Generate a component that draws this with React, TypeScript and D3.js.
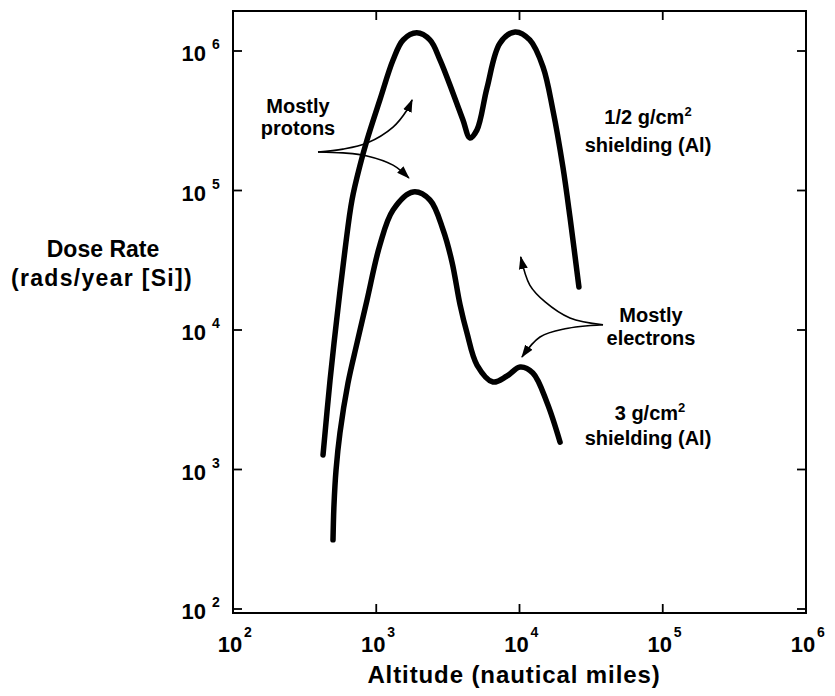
import React from 'react';
import * as d3 from 'd3';

// 1/2 g/cm^2 shielding curve (altitude nmi, dose rads/yr)
const alt1 = [425, 476, 532, 605, 677, 771, 862, 1060, 1310, 1540, 1920, 2370, 2790, 3430, 4030, 4510, 5050, 5930, 7310, 9310, 11800, 14600, 17100, 20100, 22500, 26000];
const dose1 = [1270, 4380, 12400, 37400, 85500, 152000, 230000, 446000, 861000, 1200000, 1350000, 1200000, 861000, 500000, 320000, 238000, 272000, 543000, 1140000, 1370000, 1200000, 768000, 378000, 147000, 64600, 20300];

// 3 g/cm^2 shielding curve
const alt2 = [499, 507, 524, 558, 635, 734, 862, 1060, 1310, 1810, 2370, 2930, 3380, 3850, 4300, 5050, 6530, 8180, 10100, 12400, 15600, 19200];
const dose2 = [313, 557, 991, 1830, 4170, 8070, 16400, 40700, 72500, 97600, 85500, 52100, 30700, 15100, 9510, 5610, 4240, 4680, 5430, 4920, 3000, 1570];

// annotation arrows (data coordinates)
const protonUpper: [number, number][] = [[392, 189000], [586, 198000], [862, 219000], [1310, 285000], [1640, 378000], [1780, 446000]];
const protonLower: [number, number][] = [[392, 189000], [586, 186000], [862, 177000], [1310, 152000], [1690, 123000]];
const electronUpper: [number, number][] = [[38300, 10900], [22500, 12200], [15100, 15900], [11800, 21000], [10200, 33400]];
const electronLower: [number, number][] = [[38300, 10900], [20800, 10200], [13900, 8910], [10400, 6400]];

const yTicks = [1e2, 1e3, 1e4, 1e5, 1e6];
const yTickExp = ['2', '3', '4', '5', '6'];
const xTicks = [1e2, 1e3, 1e4, 1e5, 1e6];
const xTickExp = ['2', '3', '4', '5', '6'];
const xInnerTicks = [1e3, 1e4, 1e5];

const FONT = '"Liberation Sans", Arial, Helvetica, sans-serif';

export default function App() {
  const L = 233, R = 806, T = 11, B = 613;
  const x = d3.scaleLog().domain([100, 1e6]).range([L, R]);
  const y = d3.scaleLog().domain([100, 1e6]).range([609, 51]);

  const curve = d3.line<[number, number]>()
    .x(d => x(d[0]))
    .y(d => y(d[1]))
    .curve(d3.curveCatmullRom.alpha(0.5));

  const c1 = alt1.map((a, i) => [a, dose1[i]] as [number, number]);
  const c2 = alt2.map((a, i) => [a, dose2[i]] as [number, number]);

  const tl = 9;

  return (
    <svg width={835} height={696} style={{ position: 'absolute', left: 0, top: 0, background: '#fff' }} fontFamily={FONT} fontWeight="bold">
      <defs>
        <marker id="ah" markerUnits="userSpaceOnUse" markerWidth={14} markerHeight={12} refX={12} refY={5} orient="auto" viewBox="0 0 14 10">
          <path d="M0,0.5 L13,5 L0,9.5 Z" fill="#000" />
        </marker>
      </defs>
      <rect x={0} y={0} width={835} height={696} fill="#fff" />
      {/* frame */}
      <rect x={L} y={T} width={R - L} height={B - T} fill="none" stroke="#000" strokeWidth={2} />
      {/* y ticks */}
      {yTicks.map((t, i) => (
        <g key={'y' + i}>
          <line x1={L} x2={L + tl} y1={y(t)} y2={y(t)} stroke="#000" strokeWidth={1.8} />
          <line x1={R} x2={R - tl} y1={y(t)} y2={y(t)} stroke="#000" strokeWidth={1.8} />
          <text x={206} y={y(t) + 10} fontSize={22} textAnchor="end">10</text>
          <text x={212} y={y(t) - 2} fontSize={14}>{yTickExp[i]}</text>
        </g>
      ))}
      {/* x ticks */}
      {xInnerTicks.map((t, i) => (
        <g key={'xi' + i}>
          <line x1={x(t)} x2={x(t)} y1={B} y2={B - tl} stroke="#000" strokeWidth={1.8} />
          <line x1={x(t)} x2={x(t)} y1={T} y2={T + tl} stroke="#000" strokeWidth={1.8} />
        </g>
      ))}
      {xTicks.map((t, i) => (
        <g key={'x' + i}>
          <text x={x(t) - 3} y={652} fontSize={22} textAnchor="middle">10</text>
          <text x={x(t) + 11} y={637} fontSize={14}>{xTickExp[i]}</text>
        </g>
      ))}
      {/* axis titles */}
      <text x={514} y={683} fontSize={24} letterSpacing={0.9} textAnchor="middle">Altitude (nautical miles)</text>
      <text x={103} y={257} fontSize={23} textAnchor="middle">Dose Rate</text>
      <text x={102} y={286} fontSize={23} letterSpacing={1.3} textAnchor="middle">(rads/year [Si])</text>

      {/* curves */}
      <path d={curve(c1) || ''} fill="none" stroke="#000" strokeWidth={5.5} strokeLinecap="round" strokeLinejoin="round" />
      <path d={curve(c2) || ''} fill="none" stroke="#000" strokeWidth={5.5} strokeLinecap="round" strokeLinejoin="round" />

      {/* arrows */}
      {[protonUpper, protonLower, electronUpper, electronLower].map((p, i) => (
        <path key={'a' + i} d={curve(p) || ''} fill="none" stroke="#000" strokeWidth={1.6} markerEnd="url(#ah)" />
      ))}

      {/* annotations */}
      <text x={298} y={113} fontSize={20} textAnchor="middle">Mostly</text>
      <text x={298} y={135} fontSize={20} textAnchor="middle">protons</text>
      <text x={648} y={124} fontSize={20} textAnchor="middle">1/2 g/cm<tspan fontSize={13} dy={-8}>2</tspan></text>
      <text x={648} y={152} fontSize={20} textAnchor="middle">shielding (Al)</text>
      <text x={651} y={322} fontSize={20} textAnchor="middle">Mostly</text>
      <text x={651} y={345} fontSize={20} textAnchor="middle">electrons</text>
      <text x={650} y={420} fontSize={20} textAnchor="middle">3 g/cm<tspan fontSize={13} dy={-8}>2</tspan></text>
      <text x={648} y={445} fontSize={20} textAnchor="middle">shielding (Al)</text>
    </svg>
  );
}
